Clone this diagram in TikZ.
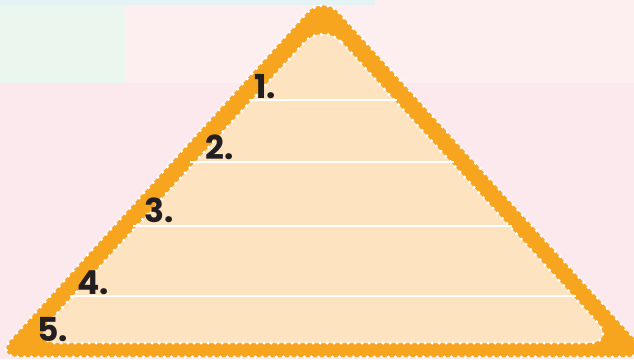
\documentclass[tikz,border=0pt]{standalone}
\usepackage{fontspec}
\setmainfont{Poppins}
\definecolor{bgpink}{HTML}{FCE9ED}
\definecolor{bgtop}{HTML}{FDEFEF}
\definecolor{bggreen}{HTML}{EAF6EE}
\definecolor{bgcyan}{HTML}{E6F3F4}
\definecolor{band}{HTML}{F7A51F}
\definecolor{peach}{HTML}{FDE3C0}
\definecolor{ink}{HTML}{231F20}
\tikzset{
  dots/.style={white, line width=3.5pt, line cap=round, dash pattern=on 0pt off 7pt},
  sep/.style={white, line width=2.4pt},
  num/.style={anchor=base west, inner sep=0pt, text=ink, font=\fontsize{33}{33}\selectfont\bfseries}
}
\begin{document}
\begin{tikzpicture}[x=1pt,y=-1pt]
\useasboundingbox (0,0) rectangle (634,359);
\fill[bgpink] (0,0) rectangle (634,359);
\fill[bgtop] (125,0) rectangle (634,83);
\fill[bggreen] (0,5) rectangle (125,83);
\fill[bgcyan] (0,0) rectangle (375,5);
% outer band
\fill[band, rounded corners=24pt] (323,-5) -- (651,357) -- (-5,357) -- cycle;
\draw[dots, rounded corners=24pt] (323,-5) -- (651,357) -- (-5,357) -- cycle;
% inner
\fill[peach, rounded corners=28pt] (323,22) -- (616,343) -- (30,343) -- cycle;
\draw[dots, rounded corners=28pt] (323,22) -- (616,343) -- (30,343) -- cycle;
% separators
\draw[sep] (249,100) -- (397,100);
\draw[sep] (190,162) -- (454,162);
\draw[sep] (133,226) -- (512,226);
\draw[sep] (70,296) -- (576,296);
% labels
\node[num] (n1) at (254,98) {1.};
\node[num] (n2) at (205,159) {2.};
\node[num] (n3) at (144,222) {3.};
\node[num] (n4) at (77,294) {4.};
\node[num] (n5) at (37,341) {5.};
\end{tikzpicture}
\end{document}
